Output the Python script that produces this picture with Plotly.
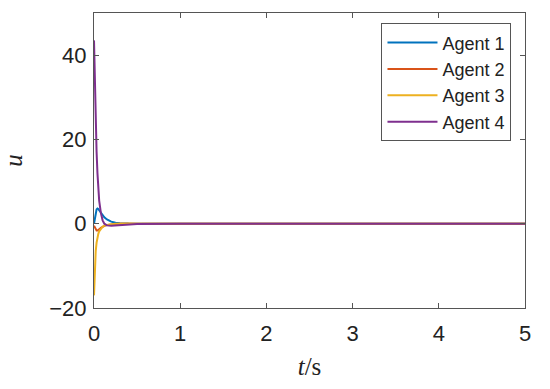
import plotly.graph_objects as go

t = [0, 0.01, 0.02, 0.03, 0.04, 0.05, 0.06, 0.08, 0.10, 0.12, 0.15, 0.2, 0.25, 0.3, 0.4, 0.5, 1, 2, 3, 4, 5]
agent1 = [0, 1.5, 2.7, 3.4, 3.6, 3.5, 3.2, 2.6, 2.0, 1.5, 1.0, 0.5, 0.25, 0.1, 0.03, 0, 0, 0, 0, 0, 0]
agent2 = [-0.5, -1.0, -1.4, -1.6, -1.6, -1.5, -1.3, -1.0, -0.7, -0.5, -0.3, -0.15, -0.05, 0, 0, 0, 0, 0, 0, 0, 0]
agent3 = [-17, -10, -6.5, -4.5, -3.2, -2.4, -1.8, -1.1, -0.7, -0.45, -0.25, -0.1, 0, 0.05, 0.05, 0.02, 0, 0, 0, 0, 0]
agent4 = [43.5, 33, 24, 17, 12, 8, 5.5, 2.5, 0.8, 0.0, -0.4, -0.5, -0.4, -0.3, -0.15, -0.05, 0, 0, 0, 0, 0]

names = ["Agent 1", "Agent 2", "Agent 3", "Agent 4"]
series = [agent1, agent2, agent3, agent4]
colors = ["#0072BD", "#D95319", "#EDB120", "#7E2F8E"]

xticks = [0, 1, 2, 3, 4, 5]
yticks = [-20, 0, 20, 40]

fig = go.Figure()
for n, s, c in zip(names, series, colors):
    fig.add_trace(go.Scatter(x=t, y=s, mode="lines", name=n,
                             line=dict(color=c, width=2)))

axis_common = dict(showgrid=False, zeroline=False, showline=True, linecolor="#555555",
                   linewidth=1, mirror="allticks", ticks="inside", ticklen=5,
                   tickcolor="#555555", automargin=False,
                   tickfont=dict(family="Liberation Sans, Arial, sans-serif", size=22, color="#222222"))

fig.update_layout(
    width=550, height=389,
    margin=dict(l=94, r=25, t=13, b=81),
    plot_bgcolor="white", paper_bgcolor="white",
    xaxis=dict(range=[0, 5], tickvals=xticks, ticktext=[str(v) for v in xticks],
               ticklabelstandoff=6,
               title=dict(text="<i>t</i>/s", standoff=12,
                          font=dict(family="Liberation Serif, Times New Roman, serif", size=25, color="#222222")),
               **axis_common),
    yaxis=dict(range=[-20, 50], tickvals=yticks, ticktext=["\u221220", "0", "20", "40"],
               ticklabelstandoff=2,
               title=dict(text="<i>u</i>", standoff=22,
                          font=dict(family="Liberation Serif, Times New Roman, serif", size=25, color="#222222")),
               **axis_common),
    legend=dict(x=0.667, y=0.965, xanchor="left", yanchor="top",
                bgcolor="white", bordercolor="#555555", borderwidth=1,
                font=dict(family="Liberation Sans, Arial, sans-serif", size=18, color="#222222"),
                tracegroupgap=0, itemwidth=50),
)

fig.write_html("out.html", config={"displayModeBar": False},
               post_script="document.body.style.margin='0';")
